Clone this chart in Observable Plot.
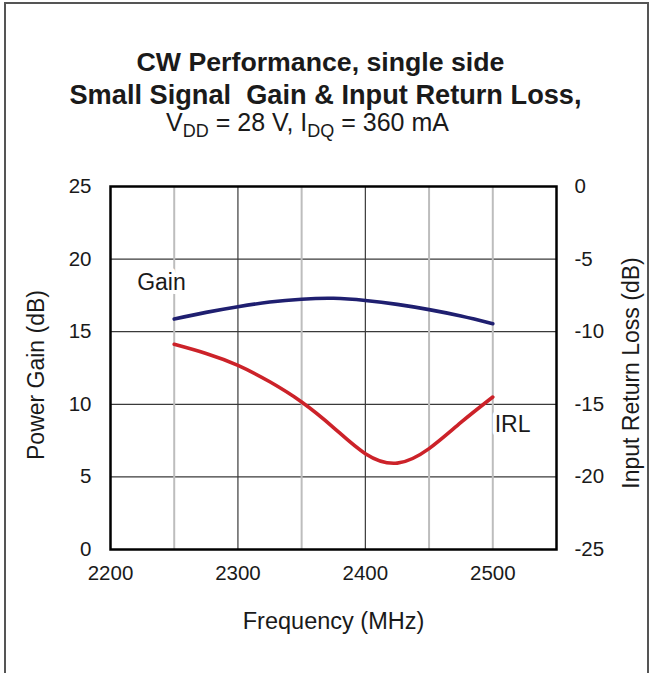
<!DOCTYPE html>
<html>
<head>
<meta charset="utf-8">
<script src="https://cdn.jsdelivr.net/npm/d3@7"></script>
<script src="https://cdn.jsdelivr.net/npm/@observablehq/plot@0.6"></script>
<style>
  body { margin: 0; background: #fff; }
  #wrap { position: relative; width: 651px; height: 673px; overflow: hidden; font-family: "Liberation Sans", Arial, sans-serif; color: #1a1a1a; }
  #border { position: absolute; left: 4px; top: 2px; width: 641px; height: 700px; border: 2px solid #555; border-bottom: none; }
  .t { position: absolute; left: 0; width: 651px; text-align: center; white-space: pre; line-height: 1; }
  #t1 { top: 49px; font-size: 26.7px; font-weight: bold; margin-left: -5px; }
  #t2 { top: 81px; font-size: 27.2px; font-weight: bold; }
  #t3 { top: 110px; font-size: 25px; margin-left: -18px; }
  #t3 sub { font-size: 18px; vertical-align: -6px; line-height: 0; }
  #chart { position: absolute; left: 0; top: 0; }
</style>
</head>
<body>
<div id="wrap">
  <div id="border"></div>
  <div class="t" id="t1">CW Performance, single side</div>
  <div class="t" id="t2">Small Signal  Gain &amp; Input Return Loss,</div>
  <div class="t" id="t3">V<sub>DD</sub> = 28 V, I<sub>DQ</sub> = 360 mA</div>
  <div id="chart"></div>
</div>
<script>
// Data
const gainFreq = [2250, 2275, 2300, 2325, 2350, 2375, 2400, 2425, 2450, 2475, 2500];
const gainDb   = [15.87, 16.33, 16.72, 17.04, 17.24, 17.30, 17.15, 16.88, 16.52, 16.08, 15.55];

const irlFreq = [2250, 2275, 2300, 2325, 2350, 2375, 2400, 2425, 2450, 2475, 2500];
const irlDb   = [-10.87, -11.50, -12.32, -13.45, -14.84, -16.60, -18.40, -19.05, -18.05, -16.25, -14.50];

const xTicks = [2200, 2300, 2400, 2500];
const yTicksLeft = [0, 5, 10, 15, 20, 25];       // Power Gain (dB)
const irlOffset = 25;                            // right axis: IRL = left - 25
const darkGridX = [2300, 2400];
const lightGridX = [2250, 2350, 2450, 2500];
const gridY = [5, 10, 15, 20];

const seriesLabels = [
  {name: "Gain", freq: 2240, value: 18.4},
  {name: "IRL", freq: 2515.5, value: -16.4 + irlOffset}
];

const gainRows = gainFreq.map((f, i) => ({f, v: gainDb[i]}));
const irlRows = irlFreq.map((f, i) => ({f, v: irlDb[i] + irlOffset}));

const font = "'Liberation Sans', Arial, sans-serif";

const chart = Plot.plot({
  width: 651,
  height: 673,
  marginTop: 186,
  marginBottom: 124,
  marginLeft: 110,
  marginRight: 95,
  style: {fontFamily: font, color: "#1a1a1a", background: "transparent", overflow: "visible"},
  x: {domain: [2200, 2550]},
  y: {domain: [0, 25]},
  marks: [
    Plot.ruleY(gridY, {stroke: "#3a3a3a", strokeWidth: 1.2}),
    Plot.ruleX(lightGridX, {stroke: "#bdbdbd", strokeWidth: 2}),
    Plot.ruleX(darkGridX, {stroke: "#3a3a3a", strokeWidth: 1.2}),
    Plot.line(gainRows, {x: "f", y: "v", stroke: "#1f1f70", strokeWidth: 3.6, curve: "natural"}),
    Plot.line(irlRows, {x: "f", y: "v", stroke: "#cc2229", strokeWidth: 3.6, curve: "natural"}),
    Plot.text(seriesLabels, {x: "freq", y: "value", text: "name", fontSize: 23, fill: "#1a1a1a",
      stroke: "white", strokeWidth: 8, paintOrder: "stroke"}),
    Plot.frame({stroke: "#000", strokeWidth: 2.5}),
    Plot.axisX(xTicks, {tickSize: 0, tickPadding: 16, fontSize: 20.5, label: null, tickFormat: d => String(d)}),
    Plot.axisY(yTicksLeft, {anchor: "left", tickSize: 0, tickPadding: 19, fontSize: 20.5, label: null}),
    Plot.axisY(yTicksLeft, {anchor: "right", tickSize: 0, tickPadding: 18, fontSize: 20.5, label: null,
      tickFormat: d => String(d - irlOffset)}),
    Plot.text(["Power Gain (dB)"], {frameAnchor: "left", dx: -74, dy: 7, rotate: -90, fontSize: 23,
      textAnchor: "middle", lineAnchor: "middle"}),
    Plot.text(["Input Return Loss (dB)"], {frameAnchor: "right", dx: 75, dy: 5, rotate: -90, fontSize: 23,
      textAnchor: "middle", lineAnchor: "middle"}),
    Plot.text(["Frequency (MHz)"], {frameAnchor: "bottom", dy: 72, fontSize: 23.5, lineAnchor: "middle"})
  ]
});
document.getElementById("chart").appendChild(chart);
</script>
</body>
</html>
